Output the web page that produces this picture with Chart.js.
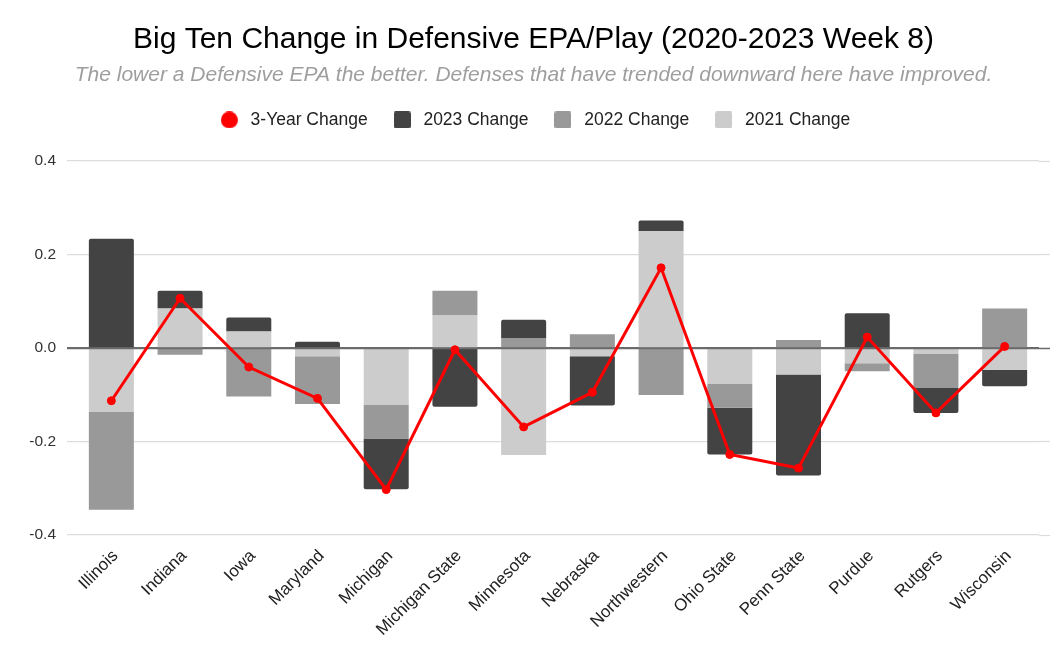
<!DOCTYPE html>
<html>
<head>
<meta charset="utf-8">
<script src="https://cdn.jsdelivr.net/npm/chart.js@4/dist/chart.umd.min.js"></script>
<style>
  html, body { margin: 0; padding: 0; background: #fff; }
  #wrap { width: 1060px; height: 659px; }
</style>
</head>
<body>
<div id="wrap"><canvas id="epaChart"></canvas></div>
<script>
const teams = ['Illinois', 'Indiana', 'Iowa', 'Maryland', 'Michigan', 'Michigan State', 'Minnesota',
    'Nebraska', 'Northwestern', 'Ohio State', 'Penn State', 'Purdue', 'Rutgers', 'Wisconsin'];
const change2021 = [-0.137, 0.084, 0.035, -0.018, -0.121, 0.069, -0.229, -0.018, 0.250, -0.077, -0.057, -0.033, -0.013, -0.047];
const change2022 = [-0.209, -0.015, -0.104, -0.102, -0.073, 0.053, 0.021, 0.029, -0.101, -0.051, 0.017, -0.017, -0.073, 0.084];
const change2023 = [0.233, 0.038, 0.030, 0.013, -0.108, -0.126, 0.039, -0.105, 0.022, -0.100, -0.216, 0.074, -0.053, -0.035];
const threeYear = [-0.113, 0.106, -0.041, -0.108, -0.303, -0.004, -0.169, -0.095, 0.171, -0.228, -0.257, 0.023, -0.139, 0.003];
const yTicks = [-0.4, -0.2, 0.0, 0.2, 0.4];
const legendOrder = ['3-Year Change', '2023 Change', '2022 Change', '2021 Change'];

const FONT = "'Liberation Sans', Arial, sans-serif";
const gridColor = '#dcdcdc';
const zeroColor = '#6b6b6b';

// small legend swatches, drawn once
function swatch(color, round) {
    const c = document.createElement('canvas');
    c.width = 17; c.height = 17;
    const g = c.getContext('2d');
    g.fillStyle = color;
    g.beginPath();
    if (round) {
        g.arc(8.5, 8.5, 8.5, 0, Math.PI * 2);
    } else {
        g.roundRect(0, 0, 17, 17, 2);
    }
    g.fill();
    return c;
}
const swatches = {
    '3-Year Change': swatch('#ff0000', true),
    '2023 Change': swatch('#434343'),
    '2022 Change': swatch('#999999'),
    '2021 Change': swatch('#cccccc')
};

// zero line over the bars, under the red line; grid stub on the right
const zeroLine = {
    id: 'zeroLine',
    beforeInit(chart) {
        // leave a gap under the legend
        const legend = chart.legend;
        const fit = legend.fit;
        legend.fit = function () {
            fit.call(this);
            this.height += 22;
        };
    },
    beforeDatasetDraw(chart, args) {
        if (args.index !== 0) return;
        const y = chart.scales.y, area = chart.chartArea, ctx = chart.ctx;
        ctx.save();
        y.ticks.forEach(t => {
            const py = Math.round(y.getPixelForValue(t.value)) + 0.5;
            ctx.strokeStyle = t.value === 0 ? zeroColor : gridColor;
            ctx.lineWidth = t.value === 0 ? 1.5 : 1.2;
            ctx.beginPath();
            ctx.moveTo(t.value === 0 ? area.left - 10 : area.right, py);
            ctx.lineTo(area.right + 11, py);
            ctx.stroke();
        });
        ctx.restore();
    }
};

const ctx = document.getElementById('epaChart').getContext('2d');
new Chart(ctx, {
    type: 'bar',
    data: {
        labels: teams,
        datasets: [
            {
                type: 'line',
                label: '3-Year Change',
                data: threeYear,
                borderColor: '#ff0000',
                backgroundColor: '#ff0000',
                borderWidth: 3,
                pointStyle: 'circle',
                pointRadius: 4,
                pointBorderWidth: 1,
                tension: 0
            },
            { label: '2021 Change', data: change2021, backgroundColor: '#cccccc' },
            { label: '2022 Change', data: change2022, backgroundColor: '#999999' },
            { label: '2023 Change', data: change2023, backgroundColor: '#434343', borderRadius: 2 }
        ]
    },
    options: {
        responsive: true,
        maintainAspectRatio: false,
        animation: false,
        layout: { padding: { left: 28, right: 21, top: 0, bottom: 0 } },
        datasets: {
            bar: { barPercentage: 0.655, categoryPercentage: 1, borderSkipped: 'start' }
        },
        plugins: {
            title: {
                display: true,
                text: 'Big Ten Change in Defensive EPA/Play (2020-2023 Week 8)',
                color: '#000',
                font: { family: FONT, size: 30, weight: 'normal' },
                padding: { top: 22, bottom: 2 }
            },
            subtitle: {
                display: true,
                text: 'The lower a Defensive EPA the better. Defenses that have trended downward here have improved.',
                color: '#9e9e9e',
                font: { family: FONT, size: 21, style: 'italic' },
                padding: { top: 3, bottom: 1 }
            },
            legend: {
                position: 'top',
                labels: {
                    usePointStyle: true,
                    pointStyleWidth: 25,
                    padding: 22,
                    color: '#222',
                    font: { family: FONT, size: 17.5 },
                    generateLabels: (chart) => {
                        const items = Chart.defaults.plugins.legend.labels.generateLabels(chart);
                        items.forEach(it => { it.pointStyle = swatches[it.text]; });
                        return items;
                    },
                    sort: (a, b) => legendOrder.indexOf(a.text) - legendOrder.indexOf(b.text)
                }
            },
            tooltip: { enabled: false }
        },
        scales: {
            x: {
                stacked: true,
                offset: true,
                grid: { display: false },
                border: { display: false },
                ticks: {
                    autoSkip: false,
                    maxRotation: 45,
                    minRotation: 45,
                    labelOffset: 4,
                    color: '#222',
                    font: { family: FONT, size: 17 }
                },
                afterFit: (scale) => { scale.height = 124; }
            },
            y: {
                stacked: true,
                min: -0.4,
                max: 0.4,
                afterBuildTicks: (scale) => { scale.ticks = yTicks.map(v => ({ value: v })); },
                grid: {
                    color: (c) => c.tick && c.tick.value === 0 ? zeroColor : gridColor,
                    lineWidth: 1.2,
                    drawTicks: true,
                    tickLength: 10
                },
                border: { display: false },
                ticks: {
                    padding: 11,
                    color: '#333',
                    font: { family: FONT, size: 15.5 },
                    callback: (v) => Number(v).toFixed(1)
                },
                afterFit: (scale) => { scale.width = 49; }
            }
        }
    },
    plugins: [zeroLine]
});
</script>
</body>
</html>
